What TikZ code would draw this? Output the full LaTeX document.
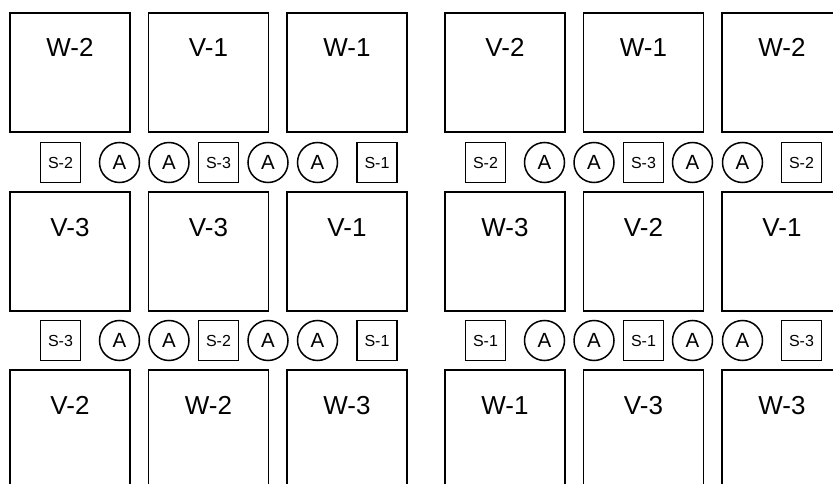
\documentclass[tikz,border=0pt]{standalone}
\usepackage{fontspec}
\setmainfont{Liberation Sans}
\usepackage{tikz}

\begin{document}
\begin{tikzpicture}[x=1pt,y=-1pt,
  bay/.style={draw,line width=1.8pt,inner sep=0pt,outer sep=0pt,minimum width=120pt,
    text height=44pt,text depth=75pt,font=\fontsize{26}{26}\selectfont},
  sw/.style={draw,line width=1.5pt,inner sep=0pt,minimum size=40pt,
    font=\fontsize{16}{16}\selectfont},
  ap/.style={draw,circle,line width=1.5pt,inner sep=0pt,minimum size=40pt,
    font=\fontsize{20.5}{20.5}\selectfont}]
\useasboundingbox (0,0) rectangle (833,484);
\clip (0,0) rectangle (833,484);
% left block
\node[bay] (la1) at (70,72.5) {W-2};
\node[bay] (la2) at (208.5,72.5) {V-1};
\node[bay] (la3) at (347,72.5) {W-1};
\node[sw] (lp1) at (60.5,162.5) {S-2};
\node[ap] (lp2) at (119.5,162.5) {A};
\node[ap] (lp3) at (169,162.5) {A};
\node[sw] (lp4) at (218.5,162.5) {S-3};
\node[ap] (lp5) at (268,162.5) {A};
\node[ap] (lp6) at (317.5,162.5) {A};
\node[sw] (lp7) at (377,162.5) {S-1};
\node[bay] (lb1) at (70,251.5) {V-3};
\node[bay] (lb2) at (208.5,251.5) {V-3};
\node[bay] (lb3) at (347,251.5) {V-1};
\node[sw] (lq1) at (60.5,340.5) {S-3};
\node[ap] (lq2) at (119.5,340.5) {A};
\node[ap] (lq3) at (169,340.5) {A};
\node[sw] (lq4) at (218.5,340.5) {S-2};
\node[ap] (lq5) at (268,340.5) {A};
\node[ap] (lq6) at (317.5,340.5) {A};
\node[sw] (lq7) at (377,340.5) {S-1};
\node[bay] (lc1) at (70,429.5) {V-2};
\node[bay] (lc2) at (208.5,429.5) {W-2};
\node[bay] (lc3) at (347,429.5) {W-3};
% right block
\node[bay] (ra1) at (505,72.5) {V-2};
\node[bay] (ra2) at (643.5,72.5) {W-1};
\node[bay] (ra3) at (782,72.5) {W-2};
\node[sw] (rp1) at (485.5,162.5) {S-2};
\node[ap] (rp2) at (544.5,162.5) {A};
\node[ap] (rp3) at (594,162.5) {A};
\node[sw] (rp4) at (643.5,162.5) {S-3};
\node[ap] (rp5) at (692.5,162.5) {A};
\node[ap] (rp6) at (742.5,162.5) {A};
\node[sw] (rp7) at (801.5,162.5) {S-2};
\node[bay] (rb1) at (505,251.5) {W-3};
\node[bay] (rb2) at (643.5,251.5) {V-2};
\node[bay] (rb3) at (782,251.5) {V-1};
\node[sw] (rq1) at (485.5,340.5) {S-1};
\node[ap] (rq2) at (544.5,340.5) {A};
\node[ap] (rq3) at (594,340.5) {A};
\node[sw] (rq4) at (643.5,340.5) {S-1};
\node[ap] (rq5) at (692.5,340.5) {A};
\node[ap] (rq6) at (742.5,340.5) {A};
\node[sw] (rq7) at (801.5,340.5) {S-3};
\node[bay] (rc1) at (505,429.5) {W-1};
\node[bay] (rc2) at (643.5,429.5) {V-3};
\node[bay] (rc3) at (782,429.5) {W-3};
\end{tikzpicture}
\end{document}
